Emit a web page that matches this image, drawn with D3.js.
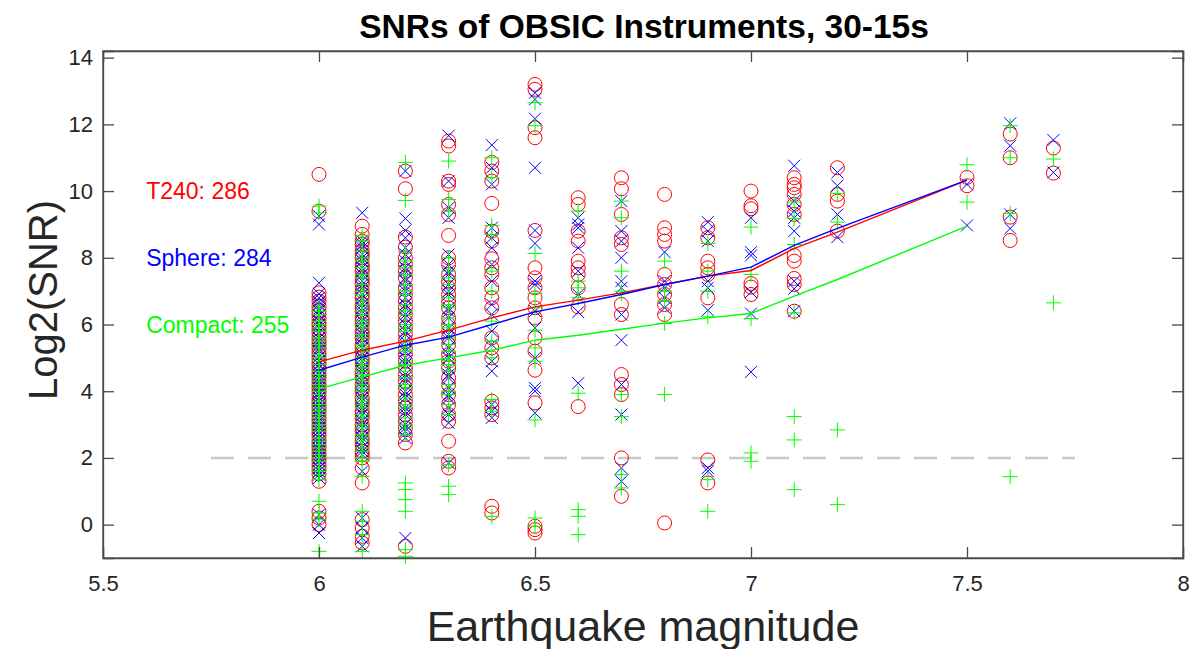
<!DOCTYPE html>
<html>
<head>
<meta charset="utf-8">
<script src="https://cdn.jsdelivr.net/npm/d3@7"></script>
<style>
  body { margin: 0; background: #fff; }
  svg text { font-family: "Liberation Sans", Arial, Helvetica, sans-serif; }
</style>
</head>
<body>
<svg id="chart" width="1199" height="649"></svg>
<script>
// magnitudes with observations
let mags = [6.0, 6.1, 6.2, 6.3, 6.4, 6.5, 6.6, 6.7, 6.8, 6.9, 7.0, 7.1, 7.2, 7.5, 7.6, 7.7];

// log2(SNR) values per magnitude, one list per instrument (same order as mags)
let t240Snr = [
    [10.5, 9.4, 6.95, 6.82, 6.7, 6.55, 6.42, 6.3, 6.18, 6.05, 5.97, 5.86, 5.75, 5.62, 5.5, 5.41, 5.3, 5.18, 5.08, 4.97, 4.85, 4.76, 4.64, 4.52, 4.43, 4.31, 4.2, 4.09, 3.98, 3.87, 3.75, 3.66, 3.55, 3.44, 3.33, 3.2, 3.1, 2.98, 2.87, 2.75, 2.66, 2.53, 2.43, 2.32, 2.2, 2.1, 1.98, 1.88, 1.76, 1.65, 1.52, 1.3, 0.4, 0.2, 0.0],
    [8.95, 8.7, 8.5, 8.4, 8.2, 8.1, 8.0, 7.8, 7.7, 7.6, 7.4, 7.3, 7.2, 7.0, 6.9, 6.8, 6.6, 6.5, 6.4, 6.2, 6.1, 6.0, 5.8, 5.7, 5.6, 5.4, 5.3, 5.2, 5.0, 4.9, 4.8, 4.6, 4.5, 4.4, 4.2, 4.1, 4.0, 3.8, 3.7, 3.6, 3.4, 3.3, 3.2, 3.0, 2.9, 2.8, 2.6, 2.5, 2.4, 2.2, 2.1, 2.0, 1.7, 1.25, 0.15, -0.1, -0.35, -0.55],
    [10.6, 10.07, 8.62, 8.32, 8.0, 7.8, 7.6, 7.4, 7.1, 6.9, 6.7, 6.5, 6.3, 6.1, 5.9, 5.7, 5.5, 5.3, 5.1, 4.9, 4.7, 4.5, 4.3, 4.1, 3.9, 3.7, 3.5, 3.3, 3.1, 2.9, 2.7, 2.45, -0.65],
    [11.5, 11.35, 10.3, 10.2, 9.6, 9.3, 8.67, 8.0, 7.8, 7.5, 7.3, 7.1, 6.9, 6.7, 6.5, 6.2, 6.0, 5.8, 5.6, 5.4, 5.1, 4.9, 4.7, 4.4, 4.2, 3.9, 3.6, 3.3, 3.1, 2.5, 1.9, 1.7],
    [10.86, 10.6, 10.3, 9.63, 8.8, 8.5, 7.97, 7.7, 7.5, 7.1, 6.8, 6.5, 5.6, 5.3, 5.0, 3.7, 3.5, 3.3, 0.55, 0.35],
    [13.2, 13.05, 11.9, 11.6, 8.82, 7.7, 7.4, 7.1, 6.8, 6.5, 6.2, 5.6, 5.2, 4.63, 3.65, -0.05, -0.15, -0.25],
    [9.8, 9.6, 8.8, 8.5, 7.9, 7.7, 7.5, 7.1, 6.53, 3.54],
    [10.4, 10.07, 9.3, 8.6, 8.4, 6.6, 6.3, 4.5, 4.2, 3.9, 2.0, 0.85],
    [9.9, 8.9, 8.7, 8.5, 7.5, 7.2, 6.9, 6.6, 6.3, 0.05],
    [8.9, 8.6, 7.9, 7.7, 7.5, 6.8, 1.94, 1.25],
    [10.0, 9.56, 9.47, 7.23, 7.12, 6.9],
    [10.4, 10.2, 10.1, 9.9, 9.6, 9.3, 8.07, 7.9, 7.38, 7.2, 6.4],
    [10.7, 9.9, 9.7, 8.8],
    [10.41, 10.16],
    [11.71, 11.0, 9.22, 8.52],
    [11.29, 10.54]
];

let sphereSnr = [
    [9.25, 9.0, 7.25, 6.92, 6.8, 6.68, 6.6, 6.47, 6.4, 6.28, 6.1, 5.98, 5.9, 5.77, 5.6, 5.5, 5.4, 5.28, 5.2, 5.03, 4.9, 4.8, 4.7, 4.58, 4.5, 4.4, 4.3, 4.2, 4.1, 3.98, 3.9, 3.8, 3.7, 3.6, 3.5, 3.42, 3.3, 3.2, 3.1, 2.98, 2.9, 2.8, 2.7, 2.6, 2.5, 2.4, 2.3, 2.2, 2.1, 2.0, 1.9, 1.8, 1.7, 1.6, 1.5, 1.4, 0.3, 0.0, -0.25],
    [9.35, 8.5, 8.4, 8.3, 8.1, 8.0, 7.9, 7.7, 7.6, 7.5, 7.3, 7.2, 7.1, 6.9, 6.8, 6.6, 6.5, 6.4, 6.2, 6.1, 6.0, 5.8, 5.7, 5.6, 5.4, 5.3, 5.1, 5.0, 4.9, 4.7, 4.6, 4.5, 4.3, 4.2, 4.1, 3.9, 3.8, 3.7, 3.5, 3.4, 3.3, 3.1, 3.0, 2.9, 2.7, 2.6, 2.5, 2.3, 2.2, 2.1, 1.6, 0.2, -0.1, -0.4, -0.65],
    [10.6, 9.18, 8.82, 8.6, 8.3, 8.1, 7.9, 7.7, 7.6, 7.4, 7.3, 7.1, 7.0, 6.8, 6.6, 6.5, 6.3, 6.2, 6.0, 5.8, 5.7, 5.5, 5.3, 5.2, 5.0, 4.9, 4.8, 4.5, 4.4, 4.3, 4.0, 3.9, 3.8, 3.5, 3.4, 3.3, 3.0, 2.9, 2.8, 2.6, -0.4],
    [11.66, 10.3, 9.5, 9.2, 8.1, 7.8, 7.6, 7.5, 7.2, 7.0, 6.9, 6.5, 6.4, 6.2, 5.9, 5.7, 5.6, 5.3, 5.1, 5.0, 4.7, 4.5, 4.4, 4.1, 3.9, 3.8, 3.5, 3.3, 3.05, 1.85],
    [11.38, 10.7, 10.2, 8.9, 8.6, 8.3, 7.8, 7.3, 6.6, 6.3, 5.8, 5.4, 4.9, 4.6, 3.6, 3.4, 3.2],
    [12.95, 12.75, 12.17, 10.7, 8.82, 8.43, 7.3, 7.2, 6.4, 5.9, 5.0, 4.1, 4.0, 3.35],
    [9.2, 9.0, 8.9, 8.3, 7.6, 6.9, 6.37, 4.24],
    [9.7, 8.8, 8.5, 8.0, 7.3, 7.1, 6.3, 5.53, 4.2, 3.3, 1.7, 1.3],
    [8.17, 7.3, 7.1, 6.8, 6.5],
    [9.07, 8.8, 8.5, 7.3, 7.1, 6.43, 1.7, 1.6],
    [9.2, 8.17, 8.07, 6.97, 6.33, 4.58],
    [10.76, 9.7, 9.4, 9.2, 8.8, 7.3, 7.07, 6.4],
    [10.56, 10.16, 9.3, 8.62],
    [10.2, 8.97],
    [12.03, 11.36, 9.3, 8.88],
    [11.53, 10.56]
];

let compactSnr = [
    [9.55, 9.35, 6.5, 6.4, 6.3, 6.1, 6.0, 5.9, 5.8, 5.6, 5.5, 5.4, 5.3, 5.1, 5.0, 4.9, 4.8, 4.6, 4.5, 4.4, 4.3, 4.2, 4.1, 4.0, 3.9, 3.7, 3.6, 3.5, 3.4, 3.3, 3.2, 3.1, 3.0, 2.9, 2.8, 2.6, 2.5, 2.4, 2.3, 2.2, 2.1, 2.0, 1.9, 1.7, 1.6, 1.5, 1.35, 0.7, 0.35, 0.15, -0.8],
    [8.65, 8.5, 8.2, 8.0, 7.9, 7.7, 7.5, 7.4, 7.2, 7.0, 6.9, 6.7, 6.6, 6.4, 6.3, 6.1, 6.0, 5.9, 5.7, 5.6, 5.4, 5.3, 5.2, 5.0, 4.9, 4.8, 4.7, 4.6, 4.5, 4.3, 4.2, 4.1, 4.0, 3.8, 3.7, 3.6, 3.5, 3.3, 3.2, 3.0, 2.9, 2.7, 2.6, 2.5, 2.3, 2.2, 2.0, 1.9, 1.45, 0.4, 0.1, -0.3, -0.8],
    [10.86, 9.72, 8.17, 7.9, 7.7, 7.5, 7.2, 7.0, 6.9, 6.6, 6.4, 6.3, 6.0, 5.9, 5.8, 5.5, 5.3, 5.2, 4.9, 4.8, 4.6, 4.4, 4.2, 4.1, 3.8, 3.6, 3.5, 3.2, 3.0, 2.9, 2.7, 1.25, 1.05, 0.75, 0.4, -0.75, -0.95],
    [10.9, 9.75, 9.4, 8.0, 7.6, 7.4, 7.2, 6.8, 6.6, 6.5, 6.2, 6.0, 5.9, 5.6, 5.4, 5.2, 4.9, 4.8, 4.6, 4.2, 4.0, 3.9, 3.6, 3.3, 1.8, 1.15, 0.9],
    [11.0, 10.4, 8.97, 8.7, 7.6, 7.0, 6.1, 5.5, 5.0, 3.75, 3.4, 0.25],
    [12.65, 11.96, 8.13, 6.93, 6.5, 5.83, 5.3, 4.9, 3.14, 0.2, -0.05],
    [9.4, 7.3, 7.1, 6.8, 3.94, 0.45, 0.25, -0.3],
    [9.7, 9.2, 7.6, 7.0, 6.93, 3.9, 3.24, 1.5, 1.1],
    [7.9, 7.0, 6.7, 6.03, 3.9],
    [8.43, 7.6, 7.0, 6.23, 1.35, 0.4],
    [8.92, 7.5, 6.18, 2.15, 1.9],
    [9.67, 9.18, 8.4, 6.35, 3.24, 2.54, 1.05],
    [9.93, 9.07, 2.84, 0.6],
    [10.79, 9.67],
    [11.96, 11.0, 9.33, 1.44],
    [10.96, 6.65]
];

// mean curves
let lineMags = [6.0, 6.1, 6.2, 6.3, 6.4, 6.5, 6.6, 6.7, 6.8, 6.9, 7.0, 7.1, 7.2, 7.5];
let t240Mean = [4.88, 5.23, 5.5, 5.83, 6.2, 6.53, 6.73, 6.95, 7.2, 7.45, 7.62, 8.28, 8.77, 10.33];
let sphereMean = [4.63, 5.02, 5.38, 5.62, 6.0, 6.38, 6.63, 6.9, 7.2, 7.45, 7.72, 8.37, 8.88, 10.33];
let compactMean = [4.07, 4.43, 4.78, 5.0, 5.23, 5.53, 5.68, 5.86, 6.04, 6.2, 6.33, 6.85, 7.35, 8.95];

let xTicks = [5.5, 6, 6.5, 7, 7.5, 8];
let yTicks = [0, 2, 4, 6, 8, 10, 12, 14];
let threshold = 2;
let thresholdRange = [5.75, 7.75];

let counts = [
    {label: "T240: 286", color: "#ff0000"},
    {label: "Sphere: 284", color: "#0000ff"},
    {label: "Compact: 255", color: "#00ff00"}
];

let circleMark = d3.symbol().type(d3.symbolCircle).size(Math.PI * 49);
let timesMark = function (s) {
    return "M -" + s + ",-" + s + " L " + s + "," + s + " M -" + s + "," + s + " L " + s + ",-" + s;
};
let plusMark = function (s) {
    return "M -" + s + ",0 L " + s + ",0 M 0,-" + s + " L 0," + s;
};

function flatten(values) {
    let pts = [];
    values.forEach((list, i) => {
        list.forEach(v => pts.push({m: mags[i], v: v}));
    });
    return pts;
}

function draw() {
    const svg = d3.select("#chart");
    const left = 103, right = 1183, top = 51, bottom = 558;

    const x = d3.scaleLinear().domain([5.5, 8]).range([left, right]);
    const y = d3.scaleLinear().domain([-1, 14.2]).range([bottom, top]);

    const axisColor = "#4a4a4a";
    const textColor = "#262626";

    // threshold line
    svg.append("line")
        .attr("x1", x(thresholdRange[0])).attr("x2", x(thresholdRange[1]))
        .attr("y1", y(threshold)).attr("y2", y(threshold))
        .attr("stroke", "#c8c8c8")
        .attr("stroke-width", 2.5)
        .attr("stroke-dasharray", "23,14");

    const g = svg.append("g");

    const series = [
        {data: t240Snr, color: "#ff0000", mark: circleMark},
        {data: sphereSnr, color: "#0000ff", mark: timesMark(6)},
        {data: compactSnr, color: "#00ff00", mark: plusMark(7.5)}
    ];
    series.forEach(s => {
        g.append("g").selectAll("path")
            .data(flatten(s.data))
            .enter()
            .append("path")
            .attr("transform", d => "translate(" + x(d.m) + "," + y(d.v) + ")")
            .attr("d", s.mark)
            .attr("fill", "none")
            .attr("stroke", s.color)
            .attr("stroke-width", 1);
    });

    // mean lines
    const line = d3.line()
        .x((d, i) => x(lineMags[i]))
        .y(d => y(d));
    [[t240Mean, "#ff0000"], [sphereMean, "#0000ff"], [compactMean, "#00ff00"]].forEach(item => {
        svg.append("path")
            .datum(item[0])
            .attr("d", line)
            .attr("fill", "none")
            .attr("stroke", item[1])
            .attr("stroke-width", 1.4);
    });

    // axes (ticks point inward, box on all sides)
    const bottomAxis = svg.append("g")
        .attr("transform", "translate(0," + bottom + ")")
        .call(d3.axisBottom(x).tickValues(xTicks).tickSize(-11).tickPadding(17)
            .tickFormat(d => String(d)));
    const leftAxis = svg.append("g")
        .attr("transform", "translate(" + left + ",0)")
        .call(d3.axisLeft(y).tickValues(yTicks).tickSize(-11).tickPadding(10));
    const topAxis = svg.append("g")
        .attr("transform", "translate(0," + top + ")")
        .call(d3.axisTop(x).tickValues(xTicks).tickSize(-11).tickFormat(""));
    const rightAxis = svg.append("g")
        .attr("transform", "translate(" + right + ",0)")
        .call(d3.axisRight(y).tickValues(yTicks).tickSize(-11).tickFormat(""));

    [bottomAxis, leftAxis, topAxis, rightAxis].forEach(a => {
        a.select(".domain").attr("stroke", axisColor).attr("stroke-width", 1.3);
        a.selectAll(".tick line").attr("stroke", axisColor).attr("stroke-width", 1.3);
        a.selectAll(".tick text")
            .attr("fill", textColor)
            .style("font-size", "22px");
    });
    svg.append("rect")
        .attr("x", left).attr("y", top)
        .attr("width", right - left).attr("height", bottom - top)
        .attr("fill", "none")
        .attr("stroke", axisColor)
        .attr("stroke-width", 1.3);

    // count annotations
    counts.forEach((c, i) => {
        svg.append("text")
            .attr("x", x(5.6))
            .attr("y", y(10 - 2 * i))
            .attr("dy", "0.35em")
            .attr("fill", c.color)
            .style("font-size", "23px")
            .text(c.label);
    });

    // title and axis labels
    svg.append("text")
        .attr("x", 644)
        .attr("y", 38)
        .attr("text-anchor", "middle")
        .attr("fill", "#000")
        .style("font-size", "33.5px")
        .style("font-weight", "bold")
        .text("SNRs of OBSIC Instruments, 30-15s");

    svg.append("text")
        .attr("x", 643)
        .attr("y", 641)
        .attr("text-anchor", "middle")
        .attr("fill", textColor)
        .style("font-size", "43px")
        .text("Earthquake magnitude");

    svg.append("text")
        .attr("transform", "translate(57,300) rotate(-90)")
        .attr("text-anchor", "middle")
        .attr("fill", textColor)
        .style("font-size", "40px")
        .text("Log2(SNR)");
}

window.onload = function () {
    draw();
};
</script>
</body>
</html>
